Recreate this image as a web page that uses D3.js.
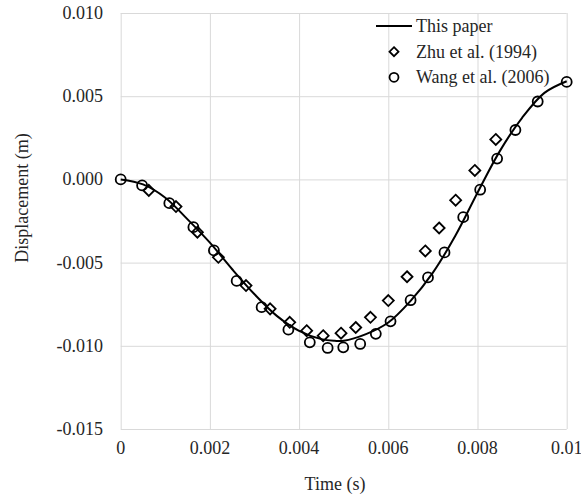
<!doctype html>
<html>
<head>
	<meta charset='utf-8'/>
	<script src="https://d3js.org/d3.v7.min.js"></script>
	<style>
		body { margin: 0; background: #fff; }
		text { font-family: "Liberation Serif", "Times New Roman", serif; fill: #262626; }
		.grid line { stroke: #d9d9d9; stroke-width: 1; }
		.grid path { display: none; }
	</style>
</head>
<body>
	<div id="chart"></div>
	<script>
		var width = 581,
			height = 498;

		// tick values and labels
		var xTicks = [0, 0.002, 0.004, 0.006, 0.008, 0.01];
		var xTickLabels = ["0", "0.002", "0.004", "0.006", "0.008", "0.01"];
		var yTicks = [-0.015, -0.010, -0.005, 0, 0.005, 0.010];
		var yTickLabels = ["-0.015", "-0.010", "-0.005", "0.000", "0.005", "0.010"];

		// This paper (solid curve)
		var paperT = [0, 0.0005, 0.001, 0.0015, 0.002, 0.0025, 0.003, 0.0035, 0.004, 0.0045, 0.0048, 0.005, 0.0055, 0.006, 0.0065, 0.007, 0.0075, 0.008, 0.0085, 0.009, 0.0095, 0.01];
		var paperD = [0, -0.0003, -0.0011, -0.0024, -0.0038, -0.0054, -0.0069, -0.0082, -0.0091, -0.0096, -0.0097, -0.0097, -0.0093, -0.0086, -0.0073, -0.0056, -0.0034, -0.0008, 0.0017, 0.0037, 0.0052, 0.0059];

		// Zhu et al. (1994)
		var zhuT = [0.00063, 0.00124, 0.00172, 0.00219, 0.00281, 0.00335, 0.00379, 0.00417, 0.00454, 0.00494, 0.00527, 0.0056, 0.006, 0.00642, 0.00683, 0.00714, 0.00751, 0.00794, 0.00841];
		var zhuD = [-0.00066, -0.00163, -0.00317, -0.00468, -0.00638, -0.00778, -0.00859, -0.00909, -0.00939, -0.00924, -0.0089, -0.00829, -0.00728, -0.00585, -0.0043, -0.00292, -0.00125, 0.00054, 0.0024];

		// Wang et al. (2006)
		var wangT = [0, 0.00048, 0.00109, 0.00163, 0.00209, 0.0026, 0.00316, 0.00376, 0.00424, 0.00464, 0.00499, 0.00537, 0.00572, 0.00605, 0.0065, 0.00689, 0.00726, 0.00768, 0.00806, 0.00844, 0.00885, 0.00935, 0.01];
		var wangD = [0, -0.00036, -0.00143, -0.00287, -0.00427, -0.0061, -0.00768, -0.00903, -0.00979, -0.01013, -0.01009, -0.00989, -0.00928, -0.00853, -0.00726, -0.00589, -0.00439, -0.00227, -0.00062, 0.00125, 0.00297, 0.00468, 0.00586];

		var legendNames = ["This paper", "Zhu et al. (1994)", "Wang et al. (2006)"];

		var svg = d3.select("#chart").append("svg")
			.attr("width", width)
			.attr("height", height);

		var x = d3.scaleLinear().domain([0, 0.01]).range([120.7, 566.7]);
		var y = d3.scaleLinear().domain([-0.015, 0.010]).range([429, 13]);

		// gridlines
		svg.append("g")
			.attr("class", "grid")
			.attr("transform", "translate(0,13)")
			.call(d3.axisBottom(x).tickValues(xTicks).tickSize(416).tickFormat(""));
		svg.append("g")
			.attr("class", "grid")
			.attr("transform", "translate(120.7,0)")
			.call(d3.axisRight(y).tickValues(yTicks).tickSize(446).tickFormat(""));

		// tick labels
		svg.selectAll(".xlab")
			.data(xTicks)
			.enter().append("text")
			.attr("class", "xlab")
			.attr("x", function(d) { return x(d); })
			.attr("y", 454)
			.attr("text-anchor", "middle")
			.style("font-size", "18px")
			.text(function(d, i) { return xTickLabels[i]; });

		svg.selectAll(".ylab")
			.data(yTicks)
			.enter().append("text")
			.attr("class", "ylab")
			.attr("x", 103)
			.attr("y", function(d) { return y(d) + 6; })
			.attr("text-anchor", "end")
			.style("font-size", "18px")
			.text(function(d, i) { return yTickLabels[i]; });

		// axis titles
		svg.append("text")
			.attr("x", 335)
			.attr("y", 490)
			.attr("text-anchor", "middle")
			.style("font-size", "18px")
			.text("Time (s)");

		svg.append("text")
			.attr("transform", "translate(28,198) rotate(-90)")
			.attr("text-anchor", "middle")
			.style("font-size", "18px")
			.text("Displacement (m)");

		// curve
		var line = d3.line()
			.x(function(d) { return x(d[0]); })
			.y(function(d) { return y(d[1]); })
			.curve(d3.curveCatmullRom);

		svg.append("path")
			.datum(d3.zip(paperT, paperD))
			.attr("d", line)
			.attr("fill", "none")
			.attr("stroke", "#000")
			.attr("stroke-width", 2);

		var diamond = function(s) {
			return "M0," + (-s) + "L" + s + ",0L0," + s + "L" + (-s) + ",0Z";
		};

		svg.selectAll(".zhu")
			.data(d3.zip(zhuT, zhuD))
			.enter().append("path")
			.attr("class", "zhu")
			.attr("transform", function(d) { return "translate(" + x(d[0]) + "," + y(d[1]) + ")"; })
			.attr("d", diamond(5.5))
			.attr("fill", "none")
			.attr("stroke", "#000")
			.attr("stroke-width", 1.8);

		svg.selectAll(".wang")
			.data(d3.zip(wangT, wangD))
			.enter().append("circle")
			.attr("class", "wang")
			.attr("cx", function(d) { return x(d[0]); })
			.attr("cy", function(d) { return y(d[1]); })
			.attr("r", 5)
			.attr("fill", "none")
			.attr("stroke", "#000")
			.attr("stroke-width", 1.8);

		// legend
		var legend = svg.append("g");
		legend.append("line")
			.attr("x1", 376).attr("x2", 412)
			.attr("y1", 26).attr("y2", 26)
			.attr("stroke", "#000")
			.attr("stroke-width", 2);
		legend.append("path")
			.attr("transform", "translate(394,51.7)")
			.attr("d", diamond(4.5))
			.attr("fill", "none")
			.attr("stroke", "#000")
			.attr("stroke-width", 1.8);
		legend.append("circle")
			.attr("cx", 394).attr("cy", 77.3).attr("r", 4.5)
			.attr("fill", "none")
			.attr("stroke", "#000")
			.attr("stroke-width", 1.8);
		legend.selectAll(".legtext")
			.data(legendNames)
			.enter().append("text")
			.attr("class", "legtext")
			.attr("x", 416)
			.attr("y", function(d, i) { return 32 + i * 25.6; })
			.style("font-size", "18px")
			.text(function(d) { return d; });
	</script>
</body>
</html>
